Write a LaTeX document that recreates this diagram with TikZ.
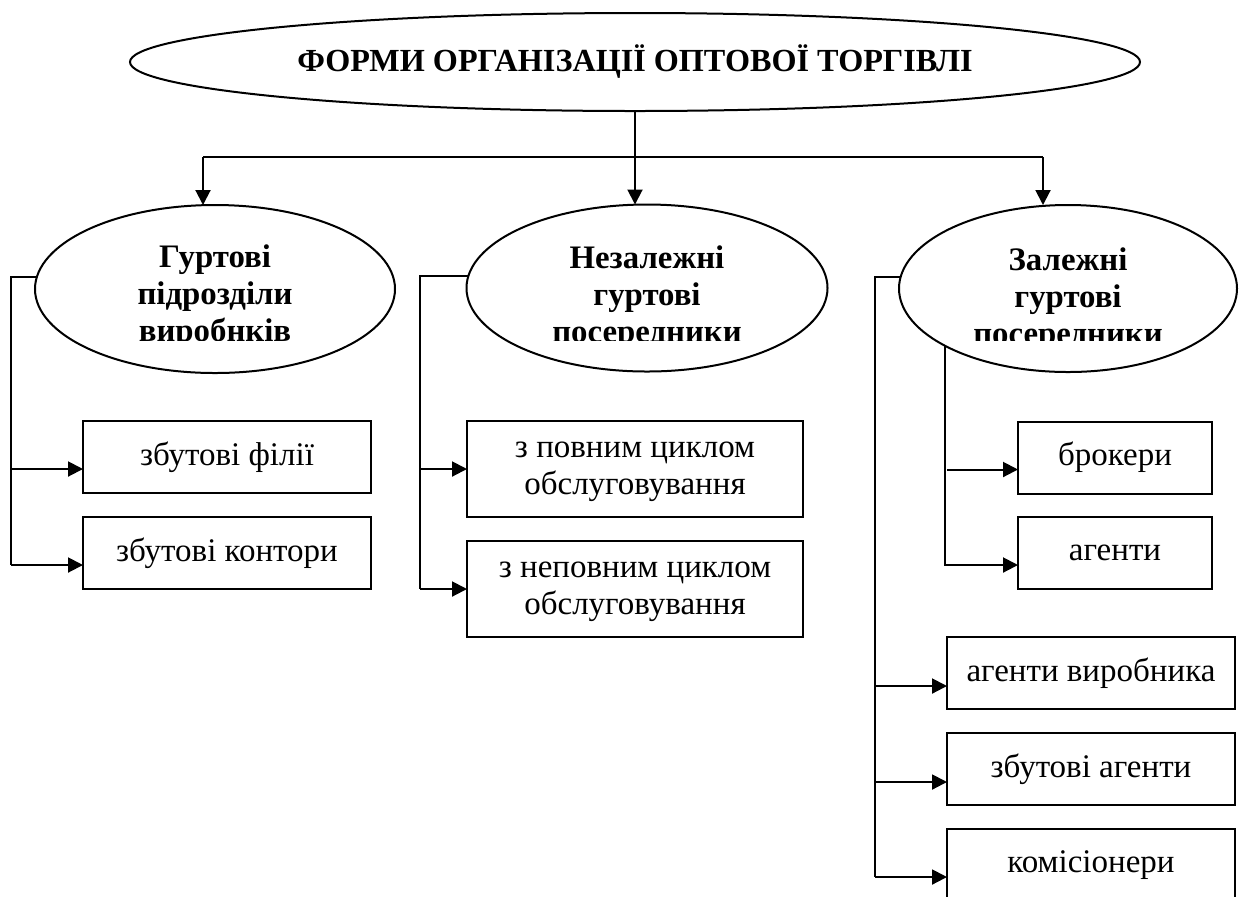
\documentclass[tikz,border=0pt]{standalone}
\usepackage{fontspec}
\setmainfont{Liberation Serif}
\usetikzlibrary{arrows.meta,shapes.geometric,calc}
\tikzstyle{conn} = [line width=1pt]
\tikzstyle{arrow} = [line width=1pt,-{Triangle[length=7.5pt,width=7.5pt]}]
\tikzstyle{oval} = [shape=ellipse,draw=black,line width=1pt,inner sep=0pt,outer sep=0pt]
\tikzstyle{head} = [align=center,inner sep=0pt,font=\fontsize{16.4}{18.5}\selectfont\bfseries]
\tikzstyle{box} = [shape=rectangle,draw=black,line width=1pt,inner sep=0pt,outer sep=0pt,minimum height=36pt,font=\fontsize{16.5}{18.5}\selectfont]
\newcommand{\twolines}[2]{\begin{tabular}{@{}c@{}}#1\\#2\end{tabular}}

\begin{document}
\begin{tikzpicture}[x=0.5pt,y=-0.5pt]
        \useasboundingbox (0,0) rectangle (1240,896);
        \node[oval,minimum width=505pt,minimum height=49pt,font=\fontsize{16.1}{18}\selectfont\bfseries] (Form) at (635,62) {ФОРМИ ОРГАНІЗАЦІЇ ОПТОВОЇ ТОРГІВЛІ};
        \node[oval,minimum width=180pt,minimum height=84pt] (Gur) at (215,289) {};
        \node[oval,minimum width=180.5pt,minimum height=83.5pt] (Nez) at (647,288) {};
        \node[oval,minimum width=169pt,minimum height=83.5pt] (Zal) at (1068,288.5) {};

        % the text boxes of the ovals cut off the last line
        \begin{scope}
            \clip (0,0) rectangle (1240,340);
            \node[head] (GurT) at (215,296.5) {Гуртові\\підрозділи\\виробнків};
            \node[head] (NezT) at (647,297.5) {Незалежні\\гуртові\\посередники};
            \node[head] (ZalT) at (1068,299.5) {Залежні\\гуртові\\посередники};
        \end{scope}

        \node[box,minimum width=144pt] (Zf) at (227,457) {збутові філії};
        \node[box,minimum width=144pt] (Zk) at (227,553) {збутові контори};
        \node[box,minimum width=168pt,minimum height=48pt] (Pc) at (635,469) {\twolines{з повним циклом}{обслуговування}};
        \node[box,minimum width=168pt,minimum height=48pt] (Nc) at (635,589) {\twolines{з неповним циклом}{обслуговування}};
        \node[box,minimum width=97pt] (Br) at (1115,457.5) {брокери};
        \node[box,minimum width=97pt] (Ag) at (1115,553) {агенти};
        \node[box,minimum width=144pt] (Av) at (1091,673) {агенти виробника};
        \node[box,minimum width=144pt] (Za) at (1091,769) {збутові агенти};
        \node[box,minimum width=144pt] (Km) at (1091,865) {комісіонери};

        \coordinate (HL) at (203,157);
        \coordinate (HR) at (1043,157);
        \draw[arrow] (Form.south) -- (Form.south |- Nez.north);
        \draw[conn] (HL) -- (HR);
        \draw[arrow] (HL) -- (HL |- Gur.north);
        \draw[arrow] (HR) -- (HR |- Zal.north);

        \coordinate (LBus) at (11,565);
        \coordinate (MBus) at (420,589);
        \coordinate (RBus) at (875,877);
        \coordinate (IBus) at (947,565);
        \draw[conn] (Gur.176) -| (LBus);
        \draw[conn] (Nez.176) -| (MBus);
        \draw[conn] (Zal.176) -| (RBus);
        \draw[conn] (Zal.205) |- (IBus);

        \foreach \b/\bus/\s in {Zf/LBus/6pt,Zk/LBus/6pt,Pc/MBus/0pt,Nc/MBus/0pt,Br/IBus/6pt,Ag/IBus/6pt,Av/RBus/6.5pt,Za/RBus/6.5pt,Km/RBus/6pt}{
            \coordinate (In) at ([yshift=-\s]\b.west);
            \draw[arrow] (In -| \bus) -- (In);
        }
    \end{tikzpicture}
\end{document}
